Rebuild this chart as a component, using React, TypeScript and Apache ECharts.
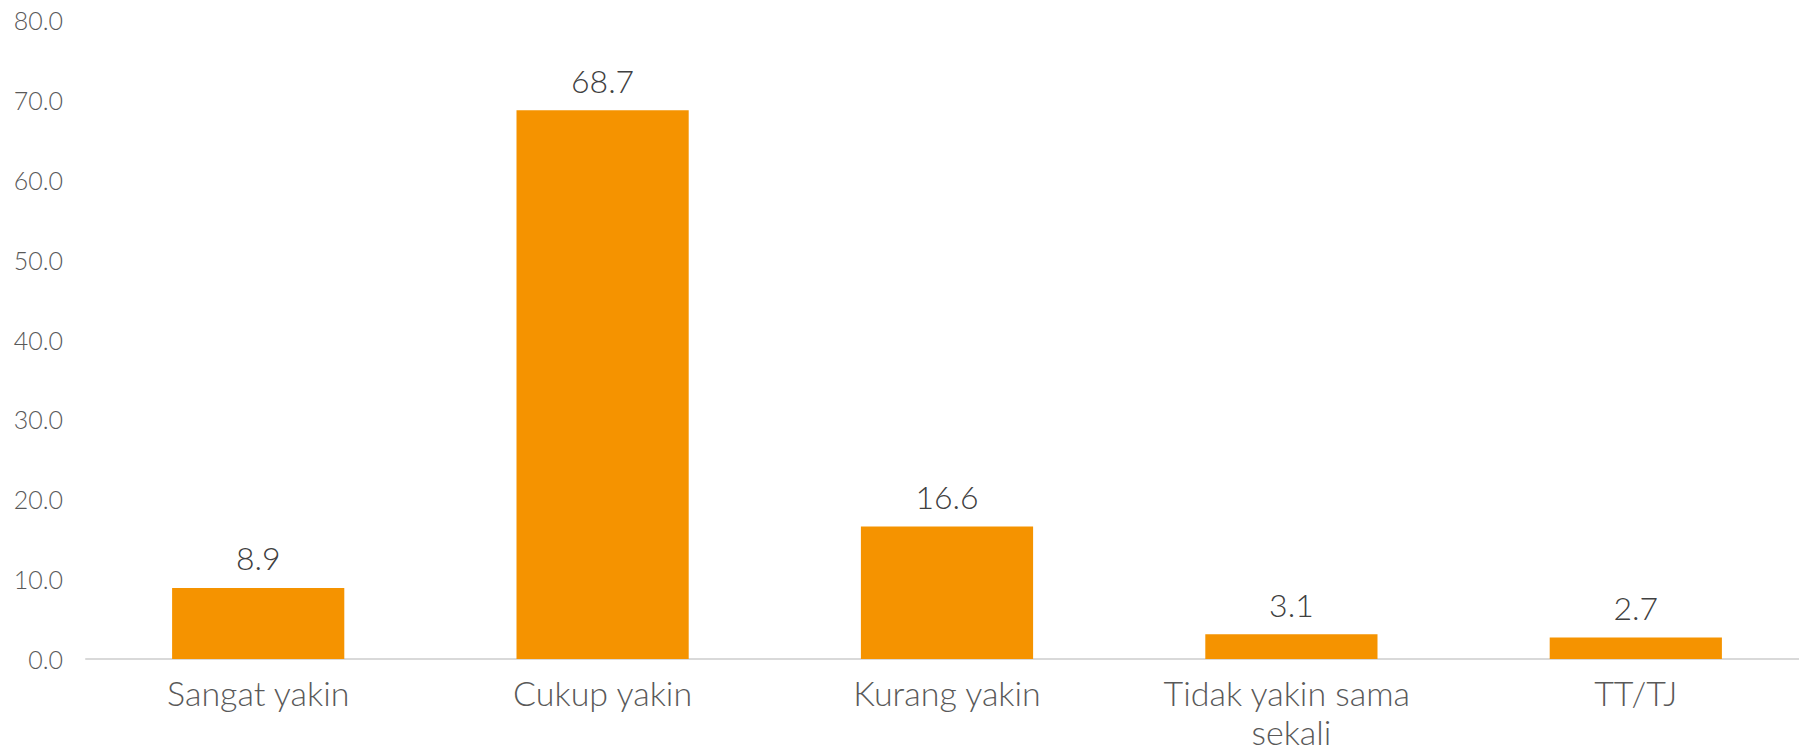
import React, { useEffect, useRef } from "react";
import * as echarts from "echarts";

const categories = ["Sangat yakin", "Cukup yakin", "Kurang yakin", "Tidak yakin sama sekali", "TT/TJ"];
const values = [8.9, 68.7, 16.6, 3.1, 2.7];
const yMin = 0;
const yMax = 80;
const yInterval = 10;

export default function App() {
  const ref = useRef<HTMLDivElement>(null);
  useEffect(() => {
    if (!ref.current) return;
    const chart = echarts.init(ref.current, undefined, { renderer: "svg" });
    const font = "Lato, 'Open Sans', sans-serif";
    chart.setOption({
      animation: false,
      backgroundColor: "#ffffff",
      grid: {
        left: 86,
        right: -9,
        top: 20,
        bottom: 94,
        containLabel: false,
        outerBoundsMode: "none",
      },
      xAxis: {
        type: "category",
        data: categories,
        axisLine: { show: true, lineStyle: { color: "#D9D9D9", width: 2 } },
        axisTick: { show: false },
        axisLabel: {
          color: "#595959",
          fontFamily: font,
          fontWeight: 300,
          fontSize: 34,
          lineHeight: 39,
          margin: 14,
          width: 300,
          overflow: "break",
          interval: 0,
        },
      },
      yAxis: {
        type: "value",
        min: yMin,
        max: yMax,
        interval: yInterval,
        axisLine: { show: false },
        axisTick: { show: false },
        splitLine: { show: false },
        axisLabel: {
          color: "#595959",
          fontFamily: font,
          fontWeight: 300,
          fontSize: 25,
          margin: 23,
          formatter: (v: number) => v.toFixed(1),
        },
      },
      series: [
        {
          type: "bar",
          data: values,
          barWidth: "50%",
          itemStyle: { color: "#F59300" },
          label: {
            show: true,
            position: "top",
            distance: 14,
            color: "#404040",
            fontFamily: font,
            fontWeight: 300,
            fontSize: 32,
            formatter: (p: any) => Number(p.value).toFixed(1),
          },
        },
      ],
    });
    return () => chart.dispose();
  }, []);
  return (
    <div
      ref={ref}
      style={{ position: "fixed", left: 0, top: 0, width: 1799, height: 753, background: "#fff" }}
    />
  );
}
